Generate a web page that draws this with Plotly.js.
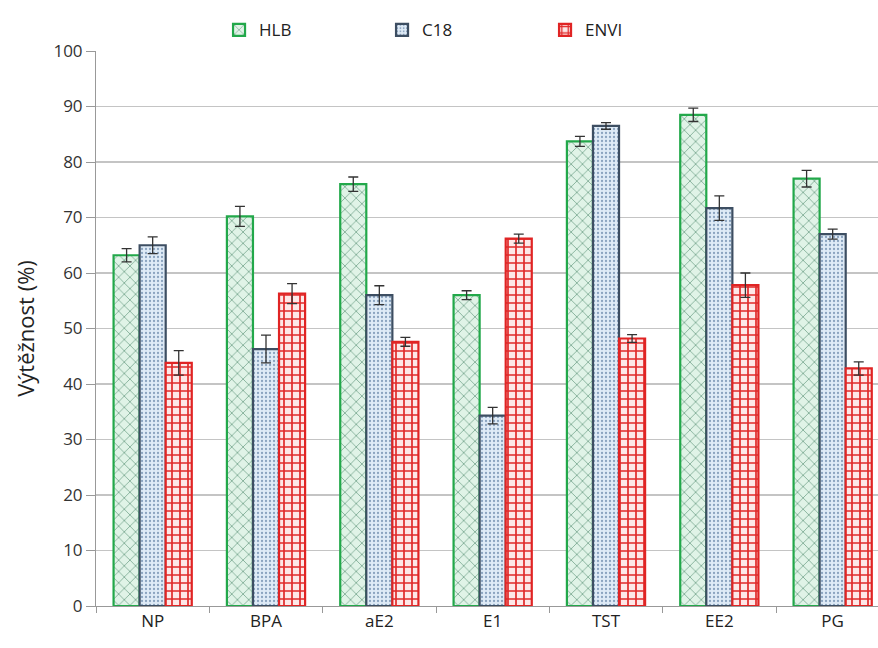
<!DOCTYPE html>
<html>
<head>
<meta charset="utf-8">
<script src="https://cdn.plot.ly/plotly-3.0.1.min.js"></script>
<style>html,body{margin:0;padding:0;background:#fff;}#chart{width:878px;height:648px;}</style>
</head>
<body>
<div id="chart"></div>
<script>
const categories = ["NP", "BPA", "aE2", "E1", "TST", "EE2", "PG"];
const hlbValues  = [63.2, 70.2, 76.0, 56.0, 83.7, 88.5, 77.0];
const hlbErrors  = [1.2, 1.8, 1.3, 0.8, 0.9, 1.2, 1.5];
const c18Values  = [65.0, 46.3, 56.0, 34.3, 86.5, 71.7, 67.0];
const c18Errors  = [1.5, 2.5, 1.7, 1.5, 0.6, 2.2, 0.9];
const enviValues = [43.8, 56.3, 47.6, 66.2, 48.2, 57.8, 42.8];
const enviErrors = [2.2, 1.8, 0.8, 0.8, 0.7, 2.2, 1.2];
const yTicks = [0, 10, 20, 30, 40, 50, 60, 70, 80, 90, 100];

const font = "Open Sans, Liberation Sans, sans-serif";
function errBar(arr){
  return {type:"data", array:arr, visible:true, color:"#333", thickness:1.3, width:5};
}
const traces = [
  {type:"bar", name:"HLB", x:categories, y:hlbValues, error_y:errBar(hlbErrors),
   marker:{color:"#e0f3e7", line:{color:"#22a84a", width:2.2},
     pattern:{shape:"x", fgcolor:"#4f8a6c", bgcolor:"#e0f3e7", size:8, solidity:0.14}}},
  {type:"bar", name:"C18", x:categories, y:c18Values, error_y:errBar(c18Errors),
   marker:{color:"#dde9f6", line:{color:"#3d4e62", width:2.2},
     pattern:{shape:".", fgcolor:"#8aa3bf", bgcolor:"#dfebf7", size:4, solidity:0.25}}},
  {type:"bar", name:"ENVI", x:categories, y:enviValues, error_y:errBar(enviErrors),
   marker:{color:"#fbe3e3", line:{color:"#e02424", width:2.2},
     pattern:{shape:"+", fgcolor:"#e02a2a", bgcolor:"#fde8e8", size:8, solidity:0.38}}}
];
const layout = {
  width:878, height:648,
  margin:{l:96, r:0, t:51, b:42},
  paper_bgcolor:"#fff", plot_bgcolor:"#fff",
  barmode:"group", bargap:0.31, bargroupgap:0,
  font:{family:font, size:16, color:"#333"},
  showlegend:true,
  legend:{orientation:"h", x:0.47, xanchor:"center", y:1.005, yanchor:"bottom",
    font:{size:17, color:"#222"}, entrywidth:118, itemwidth:20, traceorder:"normal"},
  xaxis:{range:[-0.5, 6.4], showgrid:false, showline:true, linecolor:"#999", linewidth:1,
    ticks:"outside", tickson:"boundaries", ticklen:6, tickcolor:"#999",
    tickfont:{size:17, color:"#222"}, fixedrange:true},
  yaxis:{range:[0, 100], tickvals:yTicks, showgrid:true, gridcolor:"#c4c4c4", gridwidth:1.3,
    showline:true, linecolor:"#999", linewidth:1, ticks:"outside", ticklen:9, tickcolor:"#999",
    tickfont:{size:17, color:"#333"}, zeroline:false,
    title:{text:"Výtěžnost (%)", font:{size:22, color:"#222"}, standoff:12}}
};
Plotly.newPlot("chart", traces, layout, {displayModeBar:false, staticPlot:true});
</script>
</body>
</html>
